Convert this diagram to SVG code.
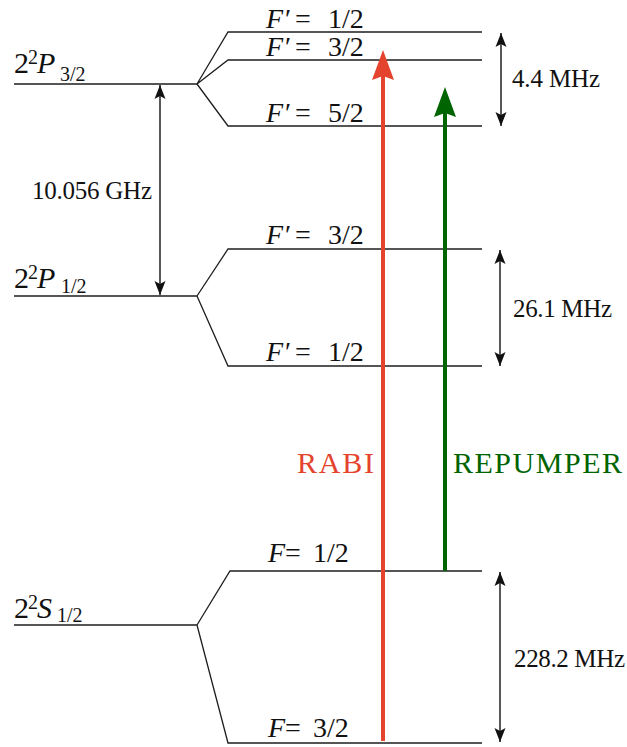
<svg xmlns="http://www.w3.org/2000/svg" width="627" height="747" viewBox="0 0 627 747" font-family="'Liberation Serif', 'DejaVu Serif', serif">
<style>
.lvl{fill:none;stroke:#1e1e1e;stroke-width:1.3}
text{font-family:'Liberation Serif','DejaVu Serif',serif;fill:#111}
.lab{font-size:28px}
.it{font-style:italic}
.big{font-size:30px}
.sm{font-size:20px}
.ann{font-size:25px}
.dbl{stroke:#111;stroke-width:1.4;fill:none;marker-start:url(#ah);marker-end:url(#ah)}
</style>
<defs>
<marker id="ah" viewBox="-15 -7 16 14" markerWidth="16" markerHeight="14" refX="0" refY="0" orient="auto-start-reverse" markerUnits="userSpaceOnUse">
<path d="M0,0 L-14,-5.5 L-11,0 L-14,5.5 Z" fill="#111"/>
</marker>
<marker id="ahR" viewBox="-2 -12 34 24" markerWidth="34" markerHeight="24" refX="4" refY="0" orient="auto" markerUnits="userSpaceOnUse">
<path d="M30,0 L0,-11 L4,0 L0,11 Z" fill="#e4432d"/>
</marker>
<marker id="ahG" viewBox="-2 -12 34 24" markerWidth="34" markerHeight="24" refX="4" refY="0" orient="auto" markerUnits="userSpaceOnUse">
<path d="M30,0 L0,-11 L4,0 L0,11 Z" fill="#006400"/>
</marker>
</defs>

<g id="P32">
<path class="lvl" d="M14,84 H197 M197,84 L228,32 H482 M197,84 L228,60 H482 M197,84 L228,126 H482"/>
<text y="73"><tspan class="big" x="14">2</tspan><tspan class="sm" x="28" y="64">2</tspan><tspan class="big it" x="37" y="73">P</tspan><tspan class="sm" x="60" y="81">3/2</tspan></text>
<text class="lab" y="28"><tspan class="it" x="266">F</tspan><tspan x="285">′</tspan><tspan x="295">=</tspan><tspan x="328">1/2</tspan></text>
<text class="lab" y="56"><tspan class="it" x="266">F</tspan><tspan x="285">′</tspan><tspan x="295">=</tspan><tspan x="328">3/2</tspan></text>
<text class="lab" y="122"><tspan class="it" x="266">F</tspan><tspan x="285">′</tspan><tspan x="295">=</tspan><tspan x="328">5/2</tspan></text>
</g>

<g id="P12">
<path class="lvl" d="M14,296 H197 M197,296 L228,249 H482 M197,296 L228,366 H482"/>
<text y="288"><tspan class="big" x="14">2</tspan><tspan class="sm" x="28" y="279">2</tspan><tspan class="big it" x="37" y="288">P</tspan><tspan class="sm" x="61" y="293">1/2</tspan></text>
<text class="lab" y="244"><tspan class="it" x="266">F</tspan><tspan x="285">′</tspan><tspan x="295">=</tspan><tspan x="328">3/2</tspan></text>
<text class="lab" y="361"><tspan class="it" x="266">F</tspan><tspan x="285">′</tspan><tspan x="295">=</tspan><tspan x="328">1/2</tspan></text>
</g>

<g id="S12">
<path class="lvl" d="M14,625 H197 M197,625 L230,571 H482 M197,625 L228,743 H482"/>
<text y="618"><tspan class="big" x="14">2</tspan><tspan class="sm" x="28" y="609">2</tspan><tspan class="big it" x="37" y="618">S</tspan><tspan class="sm" x="57" y="622">1/2</tspan></text>
<text class="lab" y="562"><tspan class="it" x="268">F</tspan><tspan x="285">=</tspan><tspan x="313">1/2</tspan></text>
<text class="lab" y="737"><tspan class="it" x="268">F</tspan><tspan x="285">=</tspan><tspan x="313">3/2</tspan></text>
</g>

<g id="connectors">
<line class="dbl" x1="160" y1="85" x2="160" y2="295"/>
<line class="dbl" x1="501" y1="33" x2="501" y2="126"/>
<line class="dbl" x1="500" y1="250" x2="500" y2="366"/>
<line class="dbl" x1="500" y1="572" x2="500" y2="742"/>
<line x1="383" y1="741" x2="383" y2="76" stroke="#e4432d" stroke-width="4" marker-end="url(#ahR)"/>
<line x1="445" y1="571" x2="445" y2="113" stroke="#006400" stroke-width="4" marker-end="url(#ahG)"/>
</g>

<g id="labels">
<text class="ann" x="32" y="199" textLength="120">10.056 GHz</text>
<text class="ann" x="512" y="87" textLength="88">4.4 MHz</text>
<text class="ann" x="513" y="317" textLength="99">26.1 MHz</text>
<text class="ann" x="514" y="667" textLength="111">228.2 MHz</text>
<text x="374" y="473" font-size="30" text-anchor="end" textLength="77" style="fill:#e4432d">RABI</text>
<text x="453" y="473" font-size="30" textLength="169" style="fill:#006400">REPUMPER</text>
</g>
</svg>
